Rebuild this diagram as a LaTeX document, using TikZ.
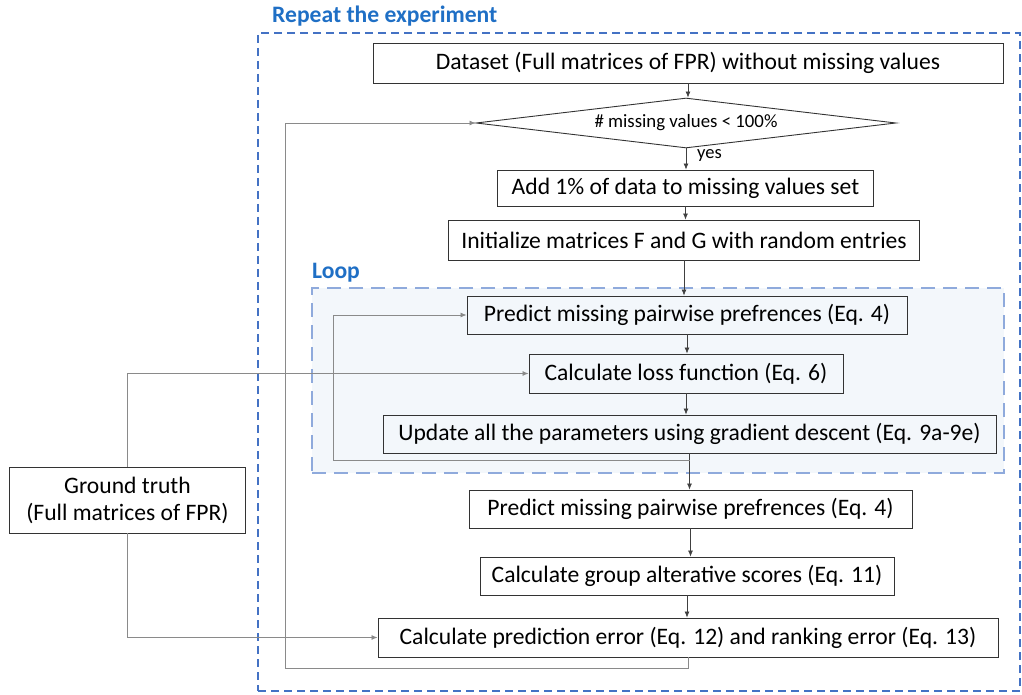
\documentclass[tikz,border=0pt]{standalone}
\usepackage{fontspec}
\setmainfont{Carlito}
\usetikzlibrary{shapes.geometric,arrows.meta}
\definecolor{outerblue}{HTML}{4472C4}
\definecolor{titleblue}{HTML}{1F6FC5}
\definecolor{loopblue}{HTML}{8FAADC}
\definecolor{loopfill}{HTML}{F3F7FB}
\definecolor{conn}{HTML}{404040}
\definecolor{connlight}{HTML}{8A8A8A}
\begin{document}
\begin{tikzpicture}[x=1pt,y=-1pt,
  box/.style={draw=black!80, line width=0.9pt, inner sep=0pt, font=\fontsize{23.6}{27}\selectfont},
  arr/.style={draw=conn, line width=0.7pt, -{Latex[length=6pt,width=5pt]}},
  longarr/.style={draw=connlight, line width=0.8pt, -{Latex[length=6pt,width=5pt]}},
  lbl/.style={text=titleblue, font=\bfseries\fontsize{23.6}{27}\selectfont, inner sep=0pt, anchor=west}]
\useasboundingbox (0,0) rectangle (1022,695);
% containers
\node[draw=outerblue, line width=2pt, dash pattern=on 8pt off 5pt, minimum width=762pt, minimum height=658pt, inner sep=0pt] (outer) at (639,362) {};
\node[lbl] (title) at (272,16) {Repeat the experiment};
\node[draw=loopblue, fill=loopfill, line width=2pt, dash pattern=on 14pt off 8pt, minimum width=692pt, minimum height=185pt, inner sep=0pt] (loop) at (658,380.5) {};
\node[lbl] (looplbl) at (312,273) {Loop};
% nodes
\node[box, minimum width=630pt, minimum height=40pt] (data) at (688,63) {Dataset (Full matrices of FPR) without missing values};
\node[diamond, draw=black!80, line width=0.9pt, aspect=8.4, minimum width=420pt, minimum height=50pt, inner sep=0pt, font=\fontsize{18.8}{21}\selectfont] (dia) at (686,123) {\# missing values < 100\%};
\node[anchor=west, inner sep=0pt, font=\fontsize{18.5}{21}\selectfont] (yes) at (697,156) {yes};
\node[box, minimum width=376pt, minimum height=36pt] (add) at (685.5,188) {Add 1\% of data to missing values set};
\node[box, minimum width=471pt, minimum height=40pt] (init) at (684,240) {Initialize matrices F and G with random entries};
\node[box, minimum width=440pt, minimum height=38pt] (p1) at (687,315) {Predict missing pairwise prefrences (Eq. 4)};
\node[box, minimum width=314pt, minimum height=39pt] (loss) at (686,373.5) {Calculate loss function (Eq. 6)};
\node[box, minimum width=613pt, minimum height=38pt] (upd) at (689.5,434) {Update all the parameters using gradient descent (Eq. 9a-9e)};
\node[box, minimum width=443pt, minimum height=38pt] (p2) at (690.5,509) {Predict missing pairwise prefrences (Eq. 4)};
\node[box, minimum width=414pt, minimum height=38pt] (grp) at (687,576) {Calculate group alterative scores (Eq. 11)};
\node[box, minimum width=620pt, minimum height=39pt] (err) at (688,637.5) {Calculate prediction error (Eq. 12) and ranking error (Eq. 13)};
\node[box, minimum width=236pt, minimum height=66pt, align=center] (gt) at (127.5,500) {Ground truth\\(Full matrices of FPR)};
% connectors
\draw[arr] (data.south) -- (data.south |- dia.north);
\draw[arr] (dia.south) -- (dia.south |- add.north);
\draw[arr] (add.south) -- (add.south |- init.north);
\draw[arr] (init.south) -- (init.south |- p1.north);
\draw[arr] (p1.south) -- (p1.south |- loss.north);
\draw[arr] (loss.south) -- (loss.south |- upd.north);
\draw[arr] (upd.south) -- (upd.south |- p2.north);
\draw[arr] (p2.south) -- (p2.south |- grp.north);
\draw[arr] (grp.south) -- (grp.south |- err.north);
\coordinate (lb) at (333,460);
\draw[longarr] (upd.south |- lb) -- (lb) |- (p1.west);
\coordinate (rb) at (285,668);
\draw[longarr] (err.south) |- (rb) |- (dia.west);
\draw[longarr] (gt.north) |- (loss.west);
\draw[longarr] (gt.south) |- (err.west);
\end{tikzpicture}
\end{document}
